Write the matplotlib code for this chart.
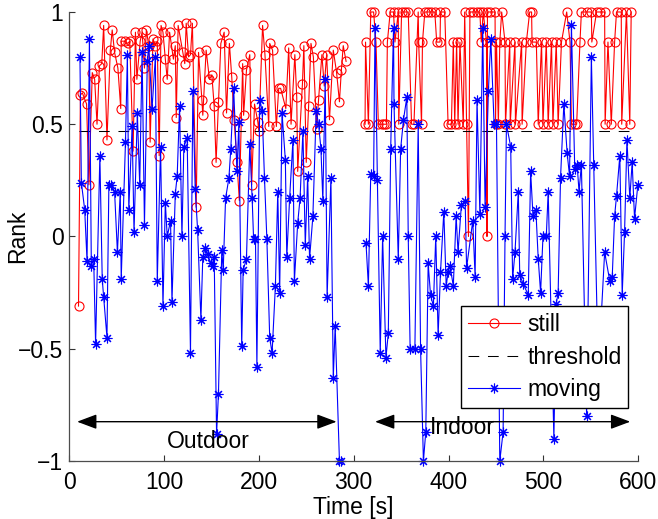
import numpy as np
import matplotlib
matplotlib.use("Agg")
import matplotlib.pyplot as plt

plt.rcParams['font.family'] = ['Liberation Sans', 'DejaVu Sans']

# (time [s], rank) samples, outdoor walk
still_outdoor = [
    (10, -0.31), (12, 0.63), (14, 0.64), (18.5, 0.59), (21, 0.23), (24.5, 0.73),
    (27, 0.70), (29.5, 0.50), (32, 0.76), (34.5, 0.77), (36.5, 0.94), (40, 0.43),
    (43.5, 0.83), (45.5, 0.92), (48, 0.82), (51.5, 0.75), (54.5, 0.57), (55, 0.87),
    (58.5, 0.87), (62, 0.86), (64, 0.87), (67.5, 0.38), (70, 0.91), (71.5, 0.70),
    (75, 0.87), (77, 0.91), (79.5, 0.75), (81.5, 0.92), (84, 0.85), (85.5, 0.42),
    (88.5, 0.88), (91, 0.85), (93, 0.87), (95, 0.36), (97, 0.94), (99, 0.91),
    (101.5, 0.79), (103.5, 0.70), (106, 0.91), (110, 0.79), (112, 0.85), (113, 0.53),
    (115, 0.94), (120, 0.82), (122, 0.77), (123.5, 0.95), (126, 0.80), (128, 0.81),
    (130, 0.95), (134, 0.13), (136.5, 0.82), (140, 0.61), (141, 0.54), (144.5, 0.83),
    (148, 0.70), (150.5, 0.72), (153, 0.58), (155, 0.33), (157.5, 0.60), (160, 0.86),
    (163.5, 0.91), (166, 0.55), (169, 0.86), (171.5, 0.71), (174, 0.52), (177, 0.33),
    (179.5, 0.16), (183, 0.77), (184, 0.54), (187, 0.74), (190.5, 0.81), (192.5, 0.23),
    (195.5, 0.59), (199, 0.51), (200, 0.47), (204, 0.94), (206.5, 0.81), (210.5, 0.49),
    (211.5, 0.86), (214.5, 0.83), (218.5, 0.49), (221, 0.66), (223, 0.66), (228.5, 0.57),
    (231.5, 0.84), (234, 0.50), (238, 0.81), (240, 0.62), (241, 0.29), (246, 0.68),
    (247.5, 0.85), (250, 0.33), (252.5, 0.58), (255, 0.86), (257.5, 0.80), (261, 0.48),
    (263, 0.61), (266.5, 0.81), (269, 0.67), (271.5, 0.81), (274.5, 0.52), (278.5, 0.83),
    (282, 0.73), (285, 0.60), (287, 0.74), (289, 0.85), (292, 0.78),
]

moving_outdoor = [
    (11.5, 0.80), (13, 0.24), (16.5, 0.12), (19, -0.11), (21.5, 0.88), (23.5, -0.13),
    (26, -0.10), (28, -0.48), (32.5, 0.36), (35, -0.19), (36.5, -0.27), (40, -0.45),
    (42, 0.23), (44.5, 0.23), (48, 0.20), (51, -0.07), (54, 0.20), (55, -0.19),
    (59.5, 0.42), (61.5, 0.81), (63, 0.12), (66.5, 0.49), (68.5, 0.02), (72, 0.55),
    (74.5, 0.23), (77, 0.82), (79.5, 0.05), (82.5, 0.78), (84, 0.85), (87.5, 0.57),
    (91, 0.80), (93, -0.20), (96.5, 0.40), (99, -0.31), (101.5, 0.15), (103.5, 0.0),
    (107, 0.07), (108.5, -0.29), (112, 0.19), (114, 0.27), (116.5, 0.58), (119, 0.0),
    (121, 0.40), (124.5, 0.44), (128, -0.52), (130.5, 0.65), (133, 0.21), (135.5, 0.03),
    (139, -0.37), (141, -0.09), (143.5, -0.05), (146, -0.08), (149.5, -0.12), (152, -0.13),
    (153, -0.09), (155.5, -0.88), (157.5, -0.70), (161, -0.06), (162.5, -0.15), (165, 0.17),
    (168.5, 0.26), (170.5, 0.39), (173.5, 0.66), (177, 0.29), (179, 0.51), (182, -0.49),
    (183.5, -0.15), (187, -0.10), (190.5, 0.41), (193, 0.17), (194.5, -0.01), (196.5, -0.01),
    (198, -0.58), (201, 0.61), (203.5, 0.56), (206, 0.26), (208.5, -0.01), (211.5, -0.45),
    (214, -0.52), (217.5, -0.22), (220, 0.20), (222, -0.25), (224.5, 0.55), (228, 0.34),
    (229.5, -0.09), (232.5, 0.17), (236, 0.43), (237.5, -0.20), (241, 0.06), (243.5, 0.17),
    (246.5, 0.47), (249, -0.04), (251.5, 0.27), (253.5, -0.10), (257, 0.09), (260.5, 0.56),
    (263, 0.50), (265.5, 0.39), (267.5, 0.16), (270, 0.70), (272, -0.27), (276, 0.26),
    (278.5, -0.63), (280.5, -0.40), (285, -1.0), (287, -1.0),
]

# indoor walk
still_indoor = [
    (312, 0.5), (312.5, 0.866), (315.5, 0.5), (318, 1), (321, 1), (323.5, 0.866),
    (326, 0.5), (329.5, 0.5), (331.5, 0.5), (334.5, 0.5), (335.5, 0.866), (338.5, 1),
    (342, 1), (343.5, 0.866), (347, 1), (347.5, 0.5), (350.5, 1), (354, 1),
    (357.5, 1), (361, 0.5), (363.5, 0.5), (368, 1), (368.5, 0.866), (371.5, 0.5),
    (372.5, 0.866), (375, 1), (378.5, 1), (382, 1), (385.5, 1), (387.5, 0.866),
    (391, 0.866), (391.5, 1), (396, 1), (399.5, 0.5), (403, 0.5), (405, 0.866),
    (406.5, 0.5), (408.5, 0.866), (410, 0.5), (412, 0.866), (415.5, 0.5), (417, 1),
    (419, 0.5), (421, 0), (422.5, 1), (426, 1), (429.5, 1), (433, 1),
    (434.5, 0.866), (436.5, 1), (440, 0.866), (440.5, 0), (441, 1), (443.5, 1),
    (449, 1), (449.5, 0.5), (450.5, 0.866), (452.5, 0.5), (454, 0.866), (456, 1),
    (459.5, 0.866), (460, 0.5), (464.5, 0.866), (465, 0.5), (470, 0.866), (470.5, 0.5),
    (477, 0.866), (477.5, 0.5), (482, 0.866), (485.5, 1), (487.5, 1), (488, 0.866),
    (492.5, 0.866), (494.5, 0.5), (498, 0.866), (499.5, 0.5), (503, 0.866), (505, 0.5),
    (508.5, 0.866), (510, 0.5), (513.5, 0.866), (515.5, 0.5), (519, 0.866), (524.5, 1),
    (528, 0.866), (529.5, 0.5), (533, 0.5), (535, 0.5), (538.5, 0.866), (540, 1),
    (545.5, 1), (550.5, 1), (551, 0.866), (556, 1), (559.5, 1), (564.5, 1),
    (565, 0.5), (568, 0.866), (571.5, 0.5), (575, 0.866), (577, 1), (582, 1),
    (582.5, 0.5), (587.5, 1), (591, 0.5), (592.5, 1),
]

moving_indoor = [
    (313, -0.03), (315.5, -0.22), (318, 0.28), (321, 0.27), (322.5, 0.93), (325, 0.25),
    (328, -0.52), (330.5, 0.0), (334, -0.54), (336.5, -0.43), (339, 0.39), (342, 0.93),
    (342.5, 0.59), (347, -0.10), (349.5, 0.39), (352.5, 0.52), (356, 0.62), (357.5, 0.0),
    (359.5, -0.50), (364.5, -0.50), (368, 0.50), (370.5, -0.50), (373.5, -1.0), (376, -0.87),
    (378.5, -0.12), (381, -0.26), (384, -0.31), (386.5, 0.0), (389, -0.44), (391.5, -0.16),
    (395, 0.11), (397.5, -0.22), (399.5, -0.16), (401.5, -0.13), (405, -0.22), (408, 0.09),
    (410, -0.07), (413.5, 0.14), (417.5, 0.16), (419, -0.14), (425.5, 0.07), (428, -0.18),
    (430, 0.61), (433, 0.10), (436, 0.93), (438.5, 0.13), (442, 0.65), (444.5, 0.88),
    (448, 0.50), (450.5, 0.50), (454, -1.0), (457.5, -0.87), (459.5, 0.0), (461, 0.50),
    (465.5, 0.40), (467.5, -0.19), (470, -0.07), (473.5, 0.20), (475, -0.17), (478.5, -0.21),
    (484, -0.26), (486.5, 0.29), (489, 0.09), (492, 0.12), (494.5, -0.10), (497, -0.25),
    (499.5, 0.0), (503, 0.0), (505, 0.20), (511, -0.90), (513.5, -0.30), (515.5, -0.25),
    (518, 0.26), (521.5, 0.59), (525, 0.37), (527.5, 0.27), (529.5, 0.94), (533, 0.30),
    (535.5, 0.32), (537.5, 0.20), (540, 0.32), (545.5, -0.80), (550.5, 0.80), (553, 0.32),
    (557, -0.45), (561, -0.35), (564.5, -0.07), (570, -0.20), (572.5, -0.18), (575, 0.09),
    (577, 0.18), (580.5, 0.36), (583, -0.26), (585.5, 0.02), (588, 0.43), (591, 0.17),
    (593.5, 0.33), (596, 0.08), (599.5, 0.23),
]

threshold = 0.47
thr_t = [10, 292, np.nan, 312, 592.5]

outdoor_span = (8.5, 282)
indoor_span = (322.5, 591.5)
span_y = -0.825

FS = 16.5


def with_gap(a, b):
    # join two walks with a NaN so the line breaks between them
    a = np.array(a, dtype=float)
    b = np.array(b, dtype=float)
    gap = np.array([[np.nan, np.nan]])
    d = np.vstack([a, gap, b])
    return d[:, 0], d[:, 1]


still_t, still_r = with_gap(still_outdoor, still_indoor)
moving_t, moving_r = with_gap(moving_outdoor, moving_indoor)

fig = plt.figure(figsize=(6.58, 5.19), dpi=100)
ax = fig.add_axes([0.1049, 0.1118, 0.8652, 0.8651])

ax.plot(still_t, still_r, color='#ff0000', lw=0.8, marker='o', ms=6.5,
        mfc='none', mec='#ff0000', mew=0.8, label='still', clip_on=False)
ax.plot(thr_t, [threshold] * len(thr_t), color='black', lw=0.75,
        dashes=(10.3, 8.4), label='threshold')
ax.plot(moving_t, moving_r, color='#0000ff', lw=0.8, marker=(8, 2, 0), ms=7,
        mec='#0000ff', mew=0.8, label='moving', clip_on=False)

# outdoor / indoor spans
arrow = dict(arrowstyle='<|-|>,head_length=1.2,head_width=0.45', color='black',
             lw=1.0, shrinkA=0, shrinkB=0, mutation_scale=10)
ax.annotate('', xy=(outdoor_span[0], span_y), xytext=(outdoor_span[1], span_y),
            arrowprops=arrow)
ax.annotate('', xy=(indoor_span[0], span_y), xytext=(indoor_span[1], span_y),
            arrowprops=arrow)
ax.text(146.5, -0.915, 'Outdoor', fontsize=FS, ha='center', va='center')
ax.text(415, -0.85, 'Indoor', fontsize=FS, ha='center', va='center')

ax.set_xlim(0, 600)
ax.set_ylim(-1, 1)
ax.set_xticks([0, 100, 200, 300, 400, 500, 600])
ax.set_yticks([-1, -0.5, 0, 0.5, 1])
ax.set_yticklabels(['\u22121', '\u22120.5', '0', '0.5', '1'])
ax.tick_params(direction='in', length=4, width=0.8, labelsize=FS, color='0.2')
ax.tick_params(axis='x', pad=7)
ax.tick_params(axis='y', pad=4)
for side in ['top', 'right']:
    ax.spines[side].set_visible(False)
for side in ['left', 'bottom']:
    ax.spines[side].set_color('0.3')
    ax.spines[side].set_linewidth(0.9)

ax.set_xlabel('Time [s]', fontsize=FS, labelpad=2)
ax.set_ylabel('Rank', fontsize=FS)
ax.yaxis.set_label_coords(-0.07, 0.5)

leg = ax.legend(loc='upper left', bbox_to_anchor=(0.688, 0.345), borderaxespad=0,
                fontsize=FS, numpoints=1, handlelength=2.3, handletextpad=0.3,
                labelspacing=0.42, borderpad=0.3, fancybox=False, framealpha=1)
leg.get_frame().set_edgecolor('black')
leg.get_frame().set_linewidth(1.0)

fig.savefig('out.png', dpi=100)
